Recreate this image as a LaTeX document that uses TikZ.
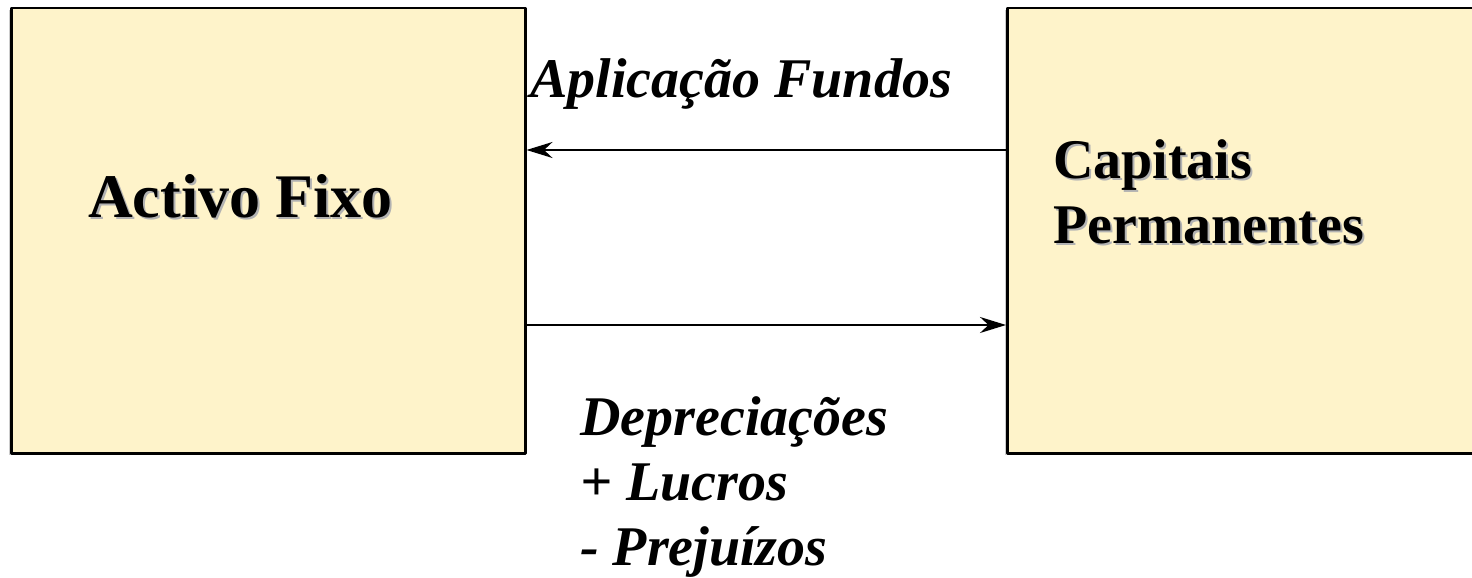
\documentclass[tikz,border=0pt]{standalone}
\usepackage{fontspec}
\setmainfont{Liberation Serif}
\usetikzlibrary{shadows,arrows.meta}
\definecolor{boxfill}{HTML}{FEF3CA}
\newcommand{\shadowtext}[1]{\makebox[0pt][l]{\kern2pt\raisebox{-2pt}{\textcolor{black!30}{#1}}}#1}
\begin{document}
\begin{tikzpicture}[x=1pt,y=-1pt,line join=round,>={Stealth[length=26pt,width=16pt]}]
  \tikzset{
    fundbox/.style={draw,line width=2.5pt,fill=boxfill,inner sep=0pt,anchor=north west,
      drop shadow={shadow xshift=-2pt,shadow yshift=-2pt,opacity=0.4}},
    boxlabel/.style={font=\fontsize{62}{65}\selectfont\bfseries,anchor=base west,inner sep=0pt,align=left},
    flowlabel/.style={font=\fontsize{56}{65}\selectfont\bfseries\itshape,anchor=base west,inner sep=0pt,align=left},
    flow/.style={->,line width=2pt}
  }
  \useasboundingbox (0,0) rectangle (1472,578);
  % the two boxes
  \node[fundbox,minimum width=514pt,minimum height=445pt] (af) at (10,7) {};
  \node[fundbox,minimum width=600pt,minimum height=445pt] (cp) at (1006,7) {};
  \node[boxlabel] (aftext) at (88,217) {\shadowtext{Activo Fixo}};
  % base of a multi-line node is its last line
  \node[boxlabel,font=\fontsize{56}{65}\selectfont\bfseries] (cptext) at (1053,243)
    {\shadowtext{Capitais}\\\shadowtext{Permanentes}};
  % flows between them
  \draw[flow] (cp.west |- 0,150) -- (af.east |- 0,150);
  \draw[flow] (af.east |- 0,325) -- (cp.west |- 0,325);
  \node[flowlabel] (aplic) at (530,97) {Aplicação Fundos};
  \node[flowlabel] (depr) at (580,565) {Depreciações\\+ Lucros\\- Prejuízos};
\end{tikzpicture}
\end{document}
